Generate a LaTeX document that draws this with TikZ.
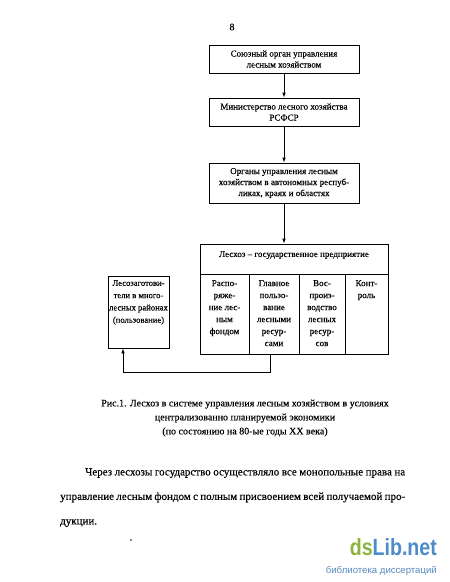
\documentclass[tikz,border=0pt]{standalone}
\usepackage{fontspec}
\setmainfont{Liberation Serif}[FakeBold=0.2]
\newfontfamily\darkfont{Liberation Serif}[FakeBold=0.4]
\newfontfamily\wmfont{Liberation Sans}
\usetikzlibrary{arrows.meta}
\definecolor{wmgreen}{HTML}{8CB43C}
\definecolor{wmblue}{HTML}{4C8CC8}
\tikzset{
  box/.style={draw, line width=0.8pt, rectangle, inner sep=2pt, align=center, font=\fontsize{9}{11}\selectfont},
  cell/.style={draw, line width=0.8pt, rectangle, inner sep=0pt},
  celltext/.style={anchor=north, align=center, inner sep=0pt, font=\fontsize{9}{12}\selectfont},
  conn/.style={line width=0.8pt, -{Latex[length=5pt,width=3.6pt]}},
  plain/.style={line width=0.8pt}
}
\begin{document}
\begin{tikzpicture}[x=1pt,y=-1pt]
\useasboundingbox[fill=white] (0,0) rectangle (450,582);
% page number
\node[font=\fontsize{10}{12}\selectfont] (pg) at (232,27) {8};
% main chain
\node[box, minimum width=150, minimum height=28] (b1) at (284,59) {Союзный орган управления\\лесным хозяйством};
\node[box, minimum width=150, minimum height=28] (b2) at (284,112) {Министерство лесного хозяйства\\РСФСР};
\node[box, minimum width=150, minimum height=40] (b3) at (284,183) {Органы управления лесным\\хозяйством в автономных респуб-\\ликах, краях и областях};
% leskhoz header
\node[cell, minimum width=188, minimum height=30] (lh) at (294,259) {};
\node[font=\fontsize{9}{11}\selectfont, inner sep=0pt] (lht) at (294,255) {Лесхоз – государственное предприятие};
% cells
\node[cell, minimum width=49, minimum height=80] (c1) at (224.5,314) {};
\node[cell, minimum width=50, minimum height=80] (c2) at (274,314) {};
\node[cell, minimum width=46, minimum height=80] (c3) at (322,314) {};
\node[cell, minimum width=43, minimum height=80] (c4) at (366.5,314) {};
\node[celltext] (t1) at (224.5,280) {Распо-\\ряже-\\ние лес-\\ным\\фондом};
\node[celltext] (t2) at (274,280) {Главное\\пользо-\\вание\\лесными\\ресур-\\сами};
\node[celltext] (t3) at (322,280) {Вос-\\произ-\\водство\\лесных\\ресур-\\сов};
\node[celltext] (t4) at (366.5,280) {Конт-\\роль};
% left box
\node[cell, minimum width=61, minimum height=72] (lz) at (138.5,312) {};
\node[celltext, font=\fontsize{8.6}{12.3}\selectfont] (lzt) at (138.5,280) {Лесозаготови-\\тели в много-\\лесных районах\\(пользование)};
% connectors
\draw[conn] (b1.south) -- (b2.north);
\draw[conn] (b2.south) -- (b3.north);
\draw[conn] (b3.south) -- (b3.south |- lh.north);
\coordinate (d1) at (270,354);
\coordinate (d2) at (270,372);
\coordinate (d3) at (123,372);
\draw[conn] (d1) -- (d2) -- (d3) -- (d3 |- lz.south);
% caption
\node[align=center, font=\fontsize{10}{14}\selectfont] (cap) at (245,418) {Рис.1. Лесхоз в системе управления лесным хозяйством в условиях\\централизованно планируемой экономики\\(по состоянию на 80-ые годы XX века)};
% body text
\node[anchor=north west, text width=345pt, inner sep=0pt, align=justify, font=\darkfont\fontsize{11}{24.5}\selectfont] (body) at (60,468) {\hspace*{25pt}Через лесхозы государство осуществляло все монопольные права на\linebreak управление лесным фондом с полным присвоением всей получаемой про-\linebreak дукции.};
\node[font=\fontsize{11}{12}\selectfont, inner sep=0pt] (dot) at (131,540) {.};
% watermark
\node[anchor=east, inner sep=0pt] (wm1) at (437,547) {\resizebox{87pt}{17pt}{\wmfont\bfseries\textcolor{wmgreen}{ds}\textcolor{wmblue}{Lib.net}}};
\node[anchor=east, inner sep=0pt, text=wmblue!85!gray, font=\wmfont\fontsize{9.6}{12}\selectfont] (wm2) at (437,571) {библиотека диссертаций};
\end{tikzpicture}
\end{document}
